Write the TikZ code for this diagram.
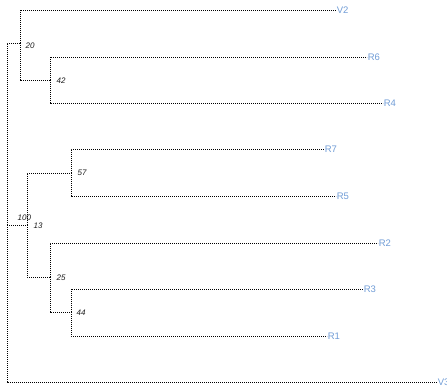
\documentclass[tikz,border=0pt]{standalone}
\usepackage{fontspec}
\setmainfont{Liberation Sans}
\definecolor{leafblue}{RGB}{112,156,214}
\definecolor{suppgray}{RGB}{30,30,30}
\begin{document}
\begin{tikzpicture}[x=1pt,y=-1pt,
  edge/.style={line width=0.9pt, dash pattern=on 1.1pt off 0.9pt, black},
  leaf/.style={anchor=west, inner sep=0.6pt, text=leafblue, font=\fontsize{9.5}{10}\selectfont},
  supp/.style={anchor=west, inner sep=0pt, text=suppgray, font=\itshape\fontsize{8}{9}\selectfont}]
\useasboundingbox (0,0) rectangle (447,391);
% internal nodes
\coordinate (root) at (7,225);
\coordinate (n20) at (20,43);
\coordinate (n42) at (50,80);
\coordinate (n13) at (27,225);
\coordinate (n57) at (71,173);
\coordinate (n25) at (50,277);
\coordinate (n44) at (71,312);
% leaves
\node[leaf] (V2) at (336,10) {V2};
\node[leaf] (R6) at (367,57) {R6};
\node[leaf] (R4) at (383,103) {R4};
\node[leaf] (R7) at (324,149) {R7};
\node[leaf] (R5) at (336,196) {R5};
\node[leaf] (R2) at (378,243) {R2};
\node[leaf] (R3) at (363,289) {R3};
\node[leaf] (R1) at (327,336) {R1};
\node[leaf] (V3) at (437,382) {V3};
% support values
\node[supp] (s20) at (25.5,46) {20};
\node[supp] (s42) at (56.5,81) {42};
\node[supp] (s57) at (77.5,173) {57};
\node[supp] (s100) at (17.5,218) {100};
\node[supp] (s13) at (33.5,226) {13};
\node[supp] (s25) at (56.5,278) {25};
\node[supp] (s44) at (76.5,313) {44};
% edges
\draw[edge] (root) |- (n20);
\draw[edge] (root) -- (n13);
\draw[edge] (root) |- (V3.west);
\draw[edge] (n20) |- (V2.west);
\draw[edge] (n20) |- (n42);
\draw[edge] (n42) |- (R6.west);
\draw[edge] (n42) |- (R4.west);
\draw[edge] (n13) |- (n57);
\draw[edge] (n13) |- (n25);
\draw[edge] (n57) |- (R7.west);
\draw[edge] (n57) |- (R5.west);
\draw[edge] (n25) |- (R2.west);
\draw[edge] (n25) |- (n44);
\draw[edge] (n44) |- (R3.west);
\draw[edge] (n44) |- (R1.west);
\end{tikzpicture}
\end{document}
